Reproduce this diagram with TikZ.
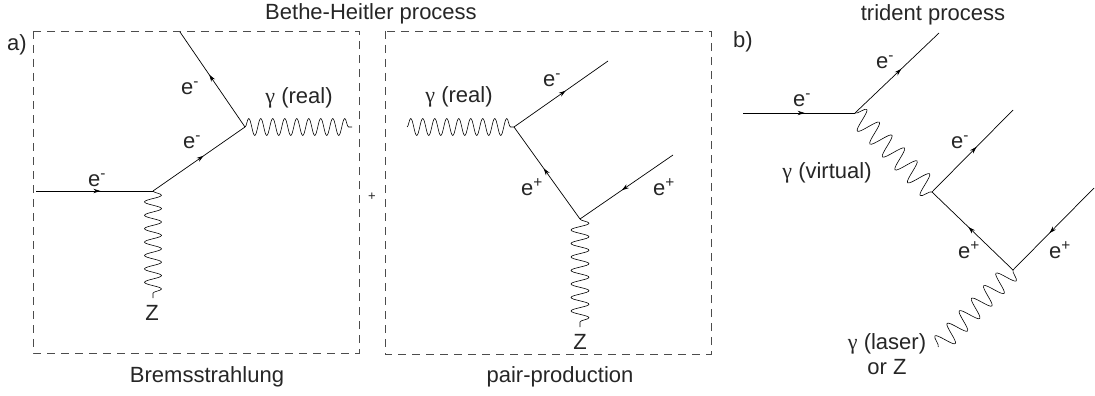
\documentclass[tikz,border=0pt]{standalone}
\usepackage{fontspec}
\setmainfont{Liberation Sans}
\newfontfamily\gfont{Liberation Serif}
\usetikzlibrary{decorations.pathmorphing,decorations.markings,arrows.meta}
\newcommand{\gam}{{\gfont γ}}
\newcommand{\elm}{e\textsuperscript{-}}
\newcommand{\elp}{e\textsuperscript{+}}
\begin{document}
\begin{tikzpicture}[x=1pt,y=-1pt,
  every node/.style={font=\fontsize{22}{25}\selectfont, text=black!85, inner sep=0pt},
  fermion/.style={line width=0.7pt, postaction={decorate, decoration={markings,
     mark=at position 0.55 with {\arrow{Stealth[length=7pt,width=4.5pt]}}}}},
  photon/.style 2 args={line width=0.6pt, decorate, decoration={snake, amplitude=#1, segment length=#2}},
  dbox/.style={draw=black!70, line width=0.7pt, dash pattern=on 8pt off 6pt}
]
\useasboundingbox (0,0) rectangle (1095,396);
% boxes
\draw[dbox] (33,31) rectangle (359,353);
\draw[dbox] (385,31) rectangle (711,354);
% titles
\node (t1) at (371,14) {Bethe-Heitler process};
\node (t2) at (933,15) {trident process};
\node (la) at (17,45) {a)};
\node (lb) at (743,42) {b)};
\node (brem) at (207,377) {Bremsstrahlung};
\node (pair) at (560,377) {pair-production};
\node[font=\fontsize{13}{15}\selectfont] (plus) at (372,197) {+};
% panel a: Bremsstrahlung
\coordinate (a1) at (36,191);
\coordinate (av1) at (153,191);
\coordinate (az) at (153,298);
\coordinate (av2) at (245,127);
\coordinate (aeout) at (180,32);
\coordinate (agout) at (352,127);
\draw[fermion] (a1) -- (av1);
\draw[fermion] (av1) -- (av2);
\draw[fermion] (av2) -- (aeout);
\draw[photon={8.5pt}{13.4pt}] (av1) -- (az);
\draw[photon={8.5pt}{12pt}] (av2) -- (agout);
\node (la1) at (97,180) {\elm};
\node (la2) at (192,142) {\elm};
\node (la3) at (190,88) {\elm};
\node (la4) at (299,98) {\gam{} (real)};
\node (la5) at (152,313) {Z};
% panel a: pair production
\coordinate (bgin) at (407,127);
\coordinate (bv1) at (514,127);
\coordinate (beout) at (608,61);
\coordinate (bv2) at (580,219);
\coordinate (bpin) at (673,155);
\coordinate (bz) at (580,327);
\draw[photon={8.5pt}{12pt}] (bgin) -- (bv1);
\draw[fermion] (bv1) -- (beout);
\draw[fermion] (bv2) -- (bv1);
\draw[fermion] (bpin) -- (bv2);
\draw[photon={9pt}{13.5pt}] (bv2) -- (bz);
\node (lb1) at (459,97) {\gam{} (real)};
\node (lb2) at (552,80) {\elm};
\node (lb3) at (532,187) {\elp};
\node (lb4) at (664,187) {\elp};
\node (lb5) at (580,342) {Z};
% panel b: trident
\coordinate (cin) at (743,113);
\coordinate (cv1) at (855,113);
\coordinate (ce1) at (939,33);
\coordinate (cv2) at (932,192);
\coordinate (ce2) at (1013,110);
\coordinate (cv3) at (1013,270);
\coordinate (cpin) at (1094,188);
\coordinate (claser) at (938,347);
\draw[fermion] (cin) -- (cv1);
\draw[fermion] (cv1) -- (ce1);
\draw[photon={11pt}{18pt}] (cv1) -- (cv2);
\draw[fermion] (cv2) -- (ce2);
\draw[fermion] (cv3) -- (cv2);
\draw[fermion] (cpin) -- (cv3);
\draw[photon={10pt}{17.5pt}] (cv3) -- (claser);
\node (lc1) at (802,100) {\elm};
\node (lc2) at (885,62) {\elm};
\node (lc3) at (827,173) {\gam{} (virtual)};
\node (lc4) at (960,142) {\elm};
\node (lc5) at (969,250) {\elp};
\node (lc6) at (1060,250) {\elp};
\node[align=center] (lc7) at (887,354) {\gam{} (laser)\\or Z};
\end{tikzpicture}
\end{document}
